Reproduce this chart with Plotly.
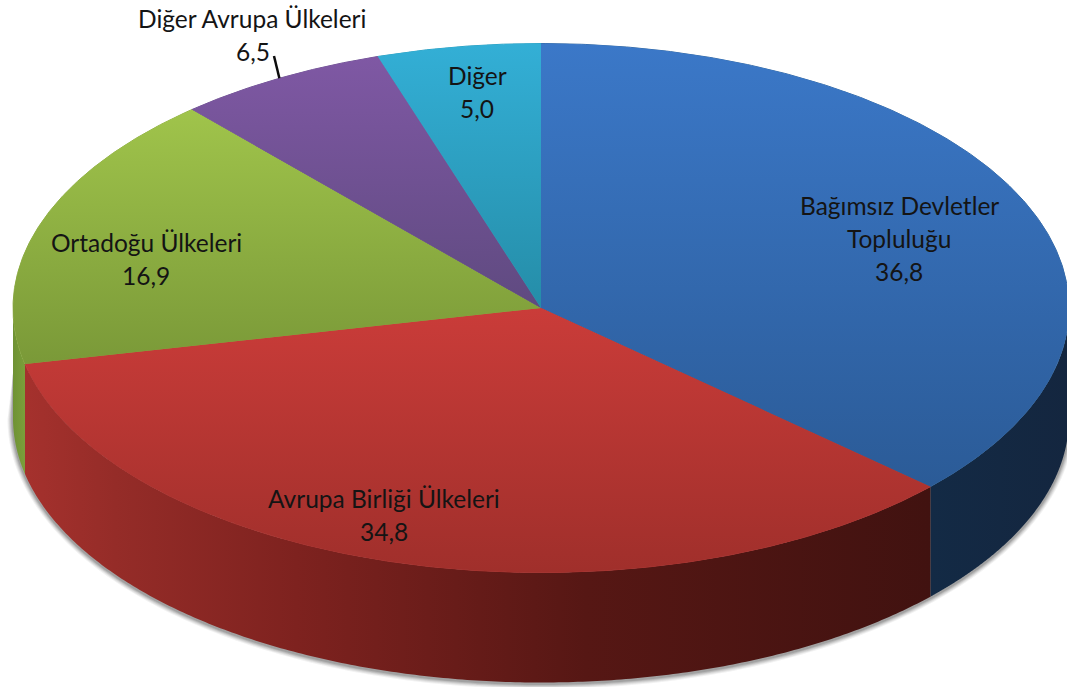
import numpy as np
import plotly.graph_objects as go

# Data
categories = ["Bağımsız Devletler Topluluğu", "Avrupa Birliği Ülkeleri", "Ortadoğu Ülkeleri", "Diğer Avrupa Ülkeleri", "Diğer"]
values = [36.8, 34.8, 16.9, 6.5, 5.0]
value_labels = ["36,8", "34,8", "16,9", "6,5", "5,0"]

# Geometry of the tilted pie (axis units = pixels)
CX, CY, RX, RY, DEPTH = 541.0, 308.0, 528.0, 264.5, 110.0
W, H = 1067, 687

top_colors = [("#3b78c8", "#2b5b97"), ("#ca3c39", "#a02f2b"), ("#a0c44b", "#7a9938"),
              ("#7f58a4", "#5f4a80"), ("#33afd6", "#258da8")]
seam_colors = ["#33689f", "#b03431", "#8caa41", "#6c5090", "#2b9dbd"]
side_scale = {
    0: [[0, "#132a45"], [1, "#14263f"]],
    1: [[0, "#a5312d"], [0.1, "#952c28"], [0.3, "#7e221f"], [0.62, "#561714"], [1, "#411210"]],
    2: [[0, "#6f9234"], [1, "#7b9f3a"]],
}
line_pitch = 33.0
label_lines = [
    (["Bağımsız Devletler", "Topluluğu", value_labels[0]], 899, 205),
    (["Avrupa Birliği Ülkeleri", value_labels[1]], 384, 498),
    (["Ortadoğu Ülkeleri", value_labels[2]], 146, 242),
    (["Diğer Avrupa Ülkeleri"], 252, 18),
    ([value_labels[3]], 253, 51),
    (["Diğer", value_labels[4]], 477, 75),
]
leader_start = (274, 56)


def pt(theta, dy=0.0, grow=0.0):
    """theta in radians clockwise from the top of the ellipse."""
    return CX + (RX + grow) * np.sin(theta), CY + dy - (RY + grow) * np.cos(theta)


total = sum(values)
edges = np.cumsum([0] + values) / total * 2 * np.pi
fig = go.Figure()

# soft shadow under the lower edge
for grow, alpha in [(5.5, .06), (4.5, .08), (3.5, .10), (2.5, .13), (1.5, .16)]:
    t = np.linspace(np.pi / 2, 3 * np.pi / 2, 200)
    x, y = pt(t, DEPTH + 1, grow)
    x = np.r_[CX + RX, x, CX - RX]
    y = np.r_[CY + 65, y, CY + 65]
    fig.add_trace(go.Scatter(x=x, y=y, mode="none", fill="toself", hoverinfo="skip",
                             fillcolor=f"rgba(40,40,40,{alpha})"))

# side walls: only the part of each slice on the lower half is visible
for i in range(3):
    a = max(edges[i], np.pi / 2)
    b = min(edges[i + 1], 3 * np.pi / 2)
    t = np.linspace(a, b, 240)
    x1, y1 = pt(t)
    x2, y2 = pt(t[::-1], DEPTH)
    x = np.r_[x1, x2, x1[0]]
    y = np.r_[y1, y2, y1[0]]
    fig.add_trace(go.Scatter(
        x=x, y=y, mode="none", fill="toself", hoverinfo="skip",
        fillgradient=dict(type="horizontal", colorscale=side_scale[i],
                          start=float(x.min()), stop=float(x.max()))))

# top faces: a flat underlay closes the hairline seams between the slices
slices = []
for i in range(len(values)):
    t = np.linspace(edges[i], edges[i + 1], 300)
    xa, ya = pt(t)
    slices.append((np.r_[CX, xa, CX], np.r_[CY, ya, CY]))
for i, (x, y) in enumerate(slices):
    fig.add_trace(go.Scatter(x=x, y=y, mode="lines", line=dict(color=seam_colors[i], width=1),
                             hoverinfo="skip"))
for i, (x, y) in enumerate(slices):
    fig.add_trace(go.Scatter(
        x=x, y=y, mode="none", fill="toself", name=categories[i], hoverinfo="skip",
        fillgradient=dict(type="vertical",
                          colorscale=[[0, top_colors[i][0]], [1, top_colors[i][1]]],
                          start=float(y.min()), stop=float(y.max()))))

# leader line of the fourth slice, ending on the rim at the slice's mid angle
mid = (edges[3] + edges[4]) / 2
ex, ey = pt(mid)
fig.add_trace(go.Scatter(x=[leader_start[0], ex], y=[leader_start[1], ey], mode="lines",
                         line=dict(color="#0c0c0c", width=2.5), hoverinfo="skip"))

for lines, lx, ly in label_lines:
    for k, s in enumerate(lines):
        fig.add_annotation(x=lx, y=ly + k * line_pitch, text=s, showarrow=False,
                           xanchor="center", yanchor="middle",
                           font=dict(family="Lato, Carlito, sans-serif", size=24.5, color="#141414"))

fig.update_layout(
    width=W, height=H, margin=dict(l=0, r=0, t=0, b=0), showlegend=False,
    paper_bgcolor="white", plot_bgcolor="white",
    xaxis=dict(range=[0, W], visible=False, fixedrange=True),
    yaxis=dict(range=[H, 0], visible=False, fixedrange=True),
)
fig.write_html("out.html", config={"displayModeBar": False},
               post_script="document.body.style.margin='0';document.documentElement.style.overflow='hidden';")
